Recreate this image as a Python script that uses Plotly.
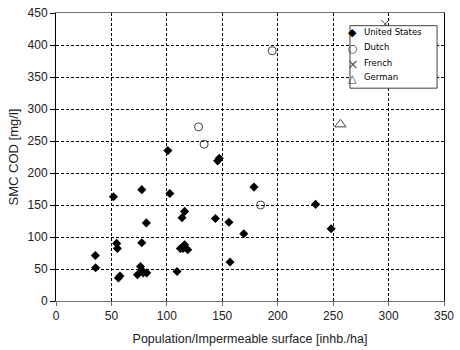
import plotly.graph_objects as go

# United States
us_x = [35.5, 35.7, 51.8, 54.7, 55.4, 56.3, 57.7, 77.4, 77.4, 73.5, 76.2, 77.4, 78.6, 81.8,
        81.5, 100.9, 102.7, 109.2, 112.2, 114.6, 116.0, 118.8, 113.7, 116.0, 143.8, 145.8,
        147.3, 156.0, 157.0, 169.4, 178.6, 234.2, 248.2]
us_y = [71, 52, 163, 90, 82, 36, 39, 174, 91, 41, 54, 48, 44, 44,
        122, 235, 168, 46, 82, 82, 88, 80, 130, 140, 129, 219,
        223, 123, 61, 105, 178, 151, 113]
# Dutch
nl_x = [128.6, 133.6, 195.0, 184.6]
nl_y = [272, 245, 391, 150]
# French
fr_x = [297]
fr_y = [433]
# German
de_x = [256.5]
de_y = [276]

legend_names = ["United States", "Dutch", "French", "German"]
legend_glyphs = ["\u25C6", "\u25CB", "\u00D7", "\u25B3"]

font = "Liberation Sans, Arial, sans-serif"
fig = go.Figure()
fig.add_trace(go.Scatter(x=us_x, y=us_y, mode="markers", name=legend_names[0],
                         marker=dict(symbol="diamond", size=7, color="black",
                                     line=dict(width=0))))
fig.add_trace(go.Scatter(x=nl_x, y=nl_y, mode="markers", name=legend_names[1],
                         marker=dict(symbol="circle-open", size=8, color="#404040",
                                     line=dict(width=1))))
fig.add_trace(go.Scatter(x=fr_x, y=fr_y, mode="markers", name=legend_names[2],
                         marker=dict(symbol="x-thin-open", size=8, color="#404040",
                                     line=dict(width=1))))
fig.add_trace(go.Scatter(x=de_x, y=de_y, mode="markers", name=legend_names[3],
                         marker=dict(symbol="triangle-up-open", size=10, color="#404040",
                                     line=dict(width=1))))

W, H = 460, 350
ml, mr, mt, mb = 56, 12, 6, 49
pw, ph = W - ml - mr, H - mt - mb


def px_x(p):
    return (p - ml) / pw


def px_y(p):
    return 1 - (p - mt) / ph


# manual legend box (white, above the markers)
shapes = [dict(type="rect", xref="paper", yref="paper",
               x0=px_x(353), x1=px_x(441), y0=px_y(83), y1=px_y(19),
               fillcolor="white", line=dict(color="#404040", width=1), layer="above")]
annotations = []
row_y = [25, 41, 57, 72]
glyph_sizes = [11, 11, 14, 11]
glyph_colors = ["black", "#333", "#555", "#333"]
for name, glyph, gs, gc, ry in zip(legend_names, legend_glyphs, glyph_sizes, glyph_colors, row_y):
    annotations.append(dict(xref="paper", yref="paper", x=px_x(356), y=px_y(ry + 1),
                            text=glyph, showarrow=False, xanchor="center", yanchor="middle",
                            font=dict(family="DejaVu Sans, sans-serif", size=gs, color=gc)))
    annotations.append(dict(xref="paper", yref="paper", x=px_x(365), y=px_y(ry),
                            text=name, showarrow=False, xanchor="left", yanchor="middle",
                            font=dict(family="DejaVu Sans, sans-serif", size=8.5, color="black")))

fig.update_layout(
    width=W, height=H,
    margin=dict(l=ml, r=mr, t=mt, b=mb),
    paper_bgcolor="white", plot_bgcolor="white",
    font=dict(family=font, size=12, color="#222"),
    showlegend=False,
    shapes=shapes,
    annotations=annotations,
)
fig.update_xaxes(range=[0, 350], tickvals=[0, 50, 100, 150, 200, 250, 300, 350],
                 showgrid=True, gridcolor="black", griddash="3px,2px", gridwidth=1,
                 showline=True, linecolor="#707070", linewidth=1, mirror=True,
                 ticks="outside", ticklen=4, tickcolor="#707070",
                 zeroline=False, tickfont=dict(size=12, color="#222"),
                 title=dict(text="Population/Impermeable surface [inhb./ha]",
                            font=dict(size=12.5, color="#222"), standoff=11))
fig.update_yaxes(range=[0, 450], tickvals=[0, 50, 100, 150, 200, 250, 300, 350, 400, 450],
                 showgrid=True, gridcolor="black", griddash="3px,2px", gridwidth=1,
                 showline=True, linecolor="black", linewidth=1, mirror=True,
                 ticks="outside", ticklen=5, tickcolor="black",
                 zeroline=False, tickfont=dict(size=12, color="#222"),
                 title=dict(text="SMC COD [mg/l]", font=dict(size=13, color="#222"),
                            standoff=6))

fig.write_html("out.html")
